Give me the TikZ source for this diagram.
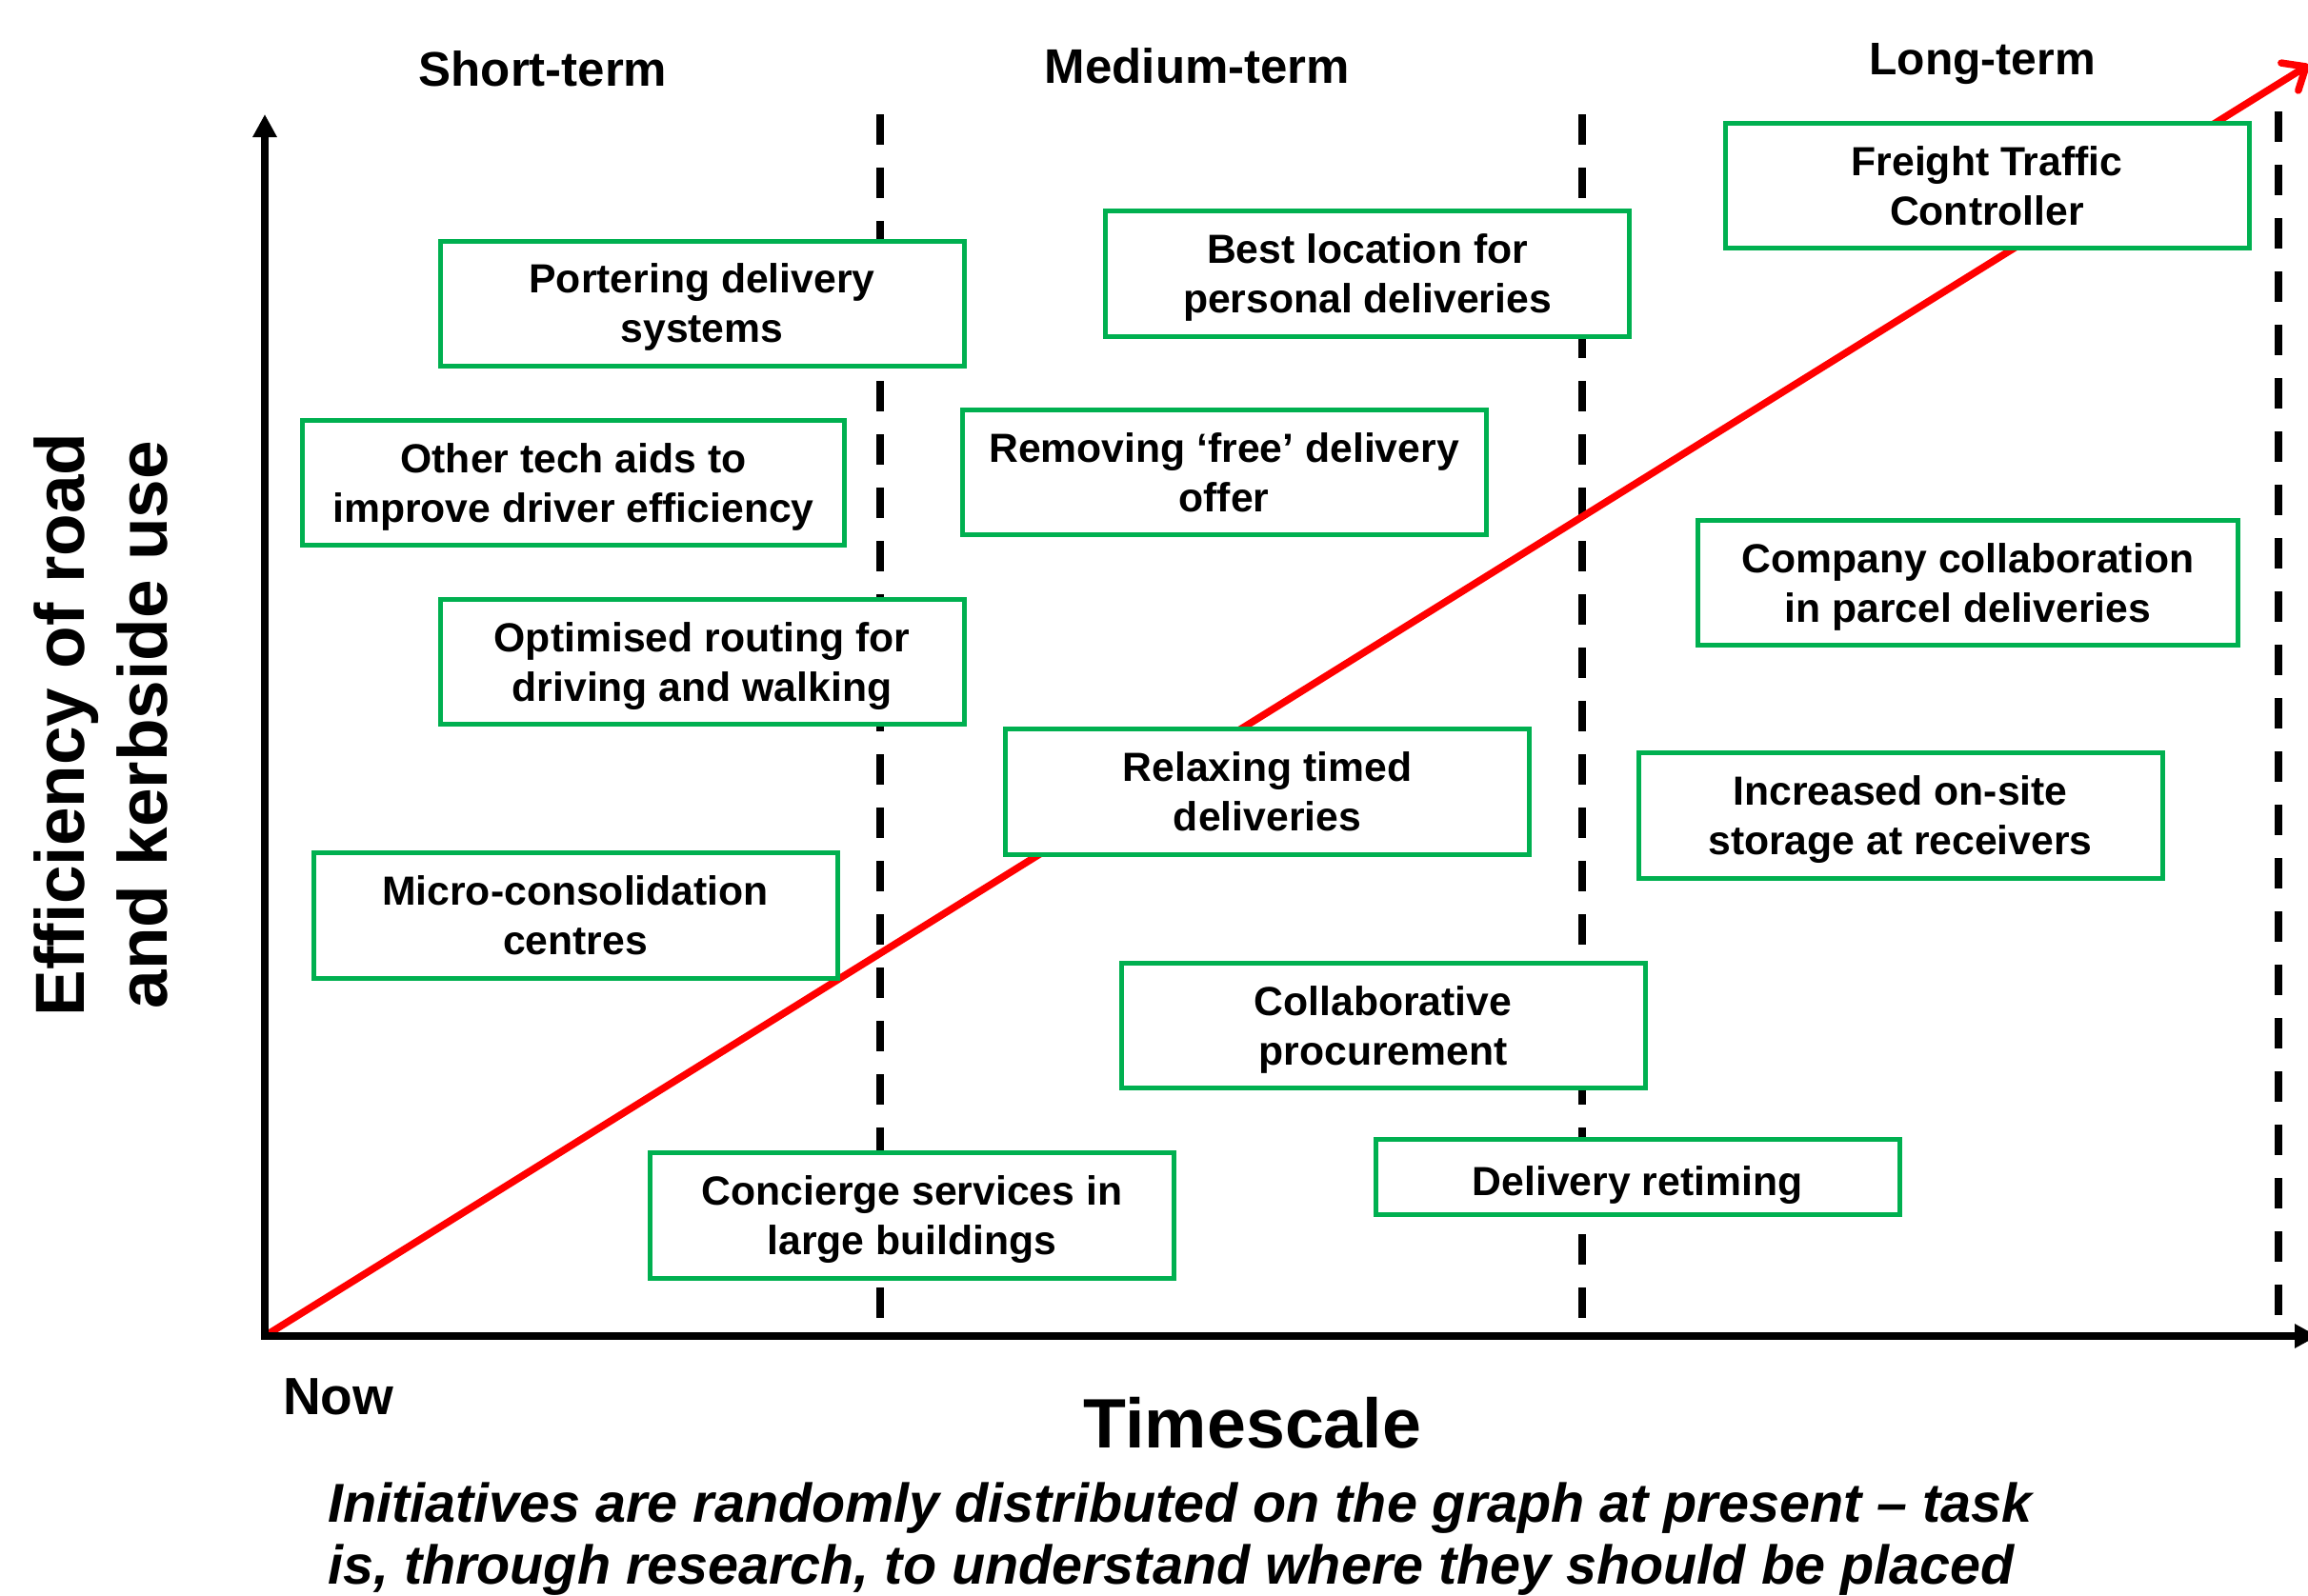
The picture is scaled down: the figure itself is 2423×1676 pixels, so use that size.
\documentclass[tikz,border=0pt]{standalone}
\usepackage{fontspec}
\setmainfont{Liberation Sans}
\usetikzlibrary{arrows.meta}
\definecolor{boxgreen}{HTML}{00B050}
\definecolor{linered}{HTML}{FF0000}
\begin{document}
\begin{tikzpicture}[x=1pt,y=-1pt,
  initbox/.style={draw=boxgreen, line width=5pt, fill=white, minimum width=550pt,
    minimum height=131pt, inner sep=0pt, outer sep=0pt, align=center, text depth=0pt,
    font=\fontsize{42.7}{52}\selectfont\bfseries},
  header/.style={font=\fontsize{51}{60}\selectfont\bfseries, anchor=base, inner sep=0pt},
  divider/.style={line width=8pt, dash pattern=on 32pt off 24pt},
  axisline/.style={line width=8pt, line join=miter,
    {Triangle[length=24pt,width=24pt]}-{Triangle[length=24pt,width=24pt]}},
  trend/.style={linered, line width=7.5pt, line cap=round,
    -{Straight Barb[length=20pt,width=34pt,round]}}
]
\clip (0,0) rectangle (2423,1676);
\fill[white] (0,0) rectangle (2423,1676);

% coordinates
\coordinate (O) at (278,1403);
\coordinate (ytop) at (278,120);
\coordinate (xend) at (2433,1403);
\coordinate (rtip) at (2424,68);
\coordinate (d1t) at (924,120);
\coordinate (d1b) at (924,1403);
\coordinate (d2t) at (1661,120);
\coordinate (d2b) at (1661,1403);
\coordinate (d3t) at (2392,117);
\coordinate (d3b) at (2392,1403);

% dividers
\draw[divider] (d1t) -- (d1b);
\draw[divider] (d2t) -- (d2b);
\draw[divider] (d3t) -- (d3b);

% trend
\draw[trend] (O) -- (rtip);

% boxes
\node[initbox] (b1) at (737,318.5) {Portering delivery\\systems};
\node[initbox, minimum width=569pt] (b2) at (602,507) {Other tech aids to\\improve driver efficiency};
\node[initbox] (b3) at (737,695) {Optimised routing for\\driving and walking};
\node[initbox, minimum height=132pt] (b4) at (604,961.5) {Micro-consolidation\\centres};
\node[initbox, minimum height=132pt] (b5) at (957.5,1276.5) {Concierge services in\\large buildings};
\node[initbox, minimum height=132pt] (b6) at (1435.5,287.5) {Best location for\\personal deliveries};
\node[initbox] (b7) at (1285,496) {Removing ‘free’ delivery\\offer};
\node[initbox, minimum height=132pt] (b8) at (1330.5,831.5) {Relaxing timed\\deliveries};
\node[initbox] (b9) at (1452,1077) {Collaborative\\procurement};
\node[initbox, minimum height=79pt, text height=38pt] (b10) at (1719,1236) {Delivery retiming};
\node[initbox, minimum height=131pt] (b11) at (2086,195) {Freight Traffic\\Controller};
\node[initbox, minimum width=567pt] (b12) at (2066,612) {Company collaboration\\in parcel deliveries};
\node[initbox, minimum height=132pt] (b13) at (1995,856.5) {Increased on-site\\storage at receivers};

% axes
\draw[axisline] (ytop) -- (O) -- (xend);

% headers
\node[header] (h1) at (570,90) {Short-term};
\node[header] (h2) at (1257,87) {Medium-term};
\node[header, font=\fontsize{48}{58}\selectfont\bfseries] (h3) at (2081,78) {Long-term};

% axis labels
\node[rotate=90, align=center, inner sep=0pt,
  font=\fontsize{73}{87}\selectfont\bfseries] (ylab) at (106,761)
  {Efficiency of road\\and kerbside use};
\node[anchor=base west, inner sep=0pt, font=\fontsize{55}{62}\selectfont\bfseries] (now) at (297,1485) {Now};
\node[anchor=base, inner sep=0pt, font=\fontsize{73.5}{86}\selectfont\bfseries] (ts) at (1315,1520) {Timescale};

% caption
\node[anchor=base west, inner sep=0pt, font=\fontsize{57.5}{65}\selectfont\bfseries\itshape] (cap1) at (344,1598)
  {Initiatives are randomly distributed on the graph at present – task};
\node[anchor=base west, inner sep=0pt, font=\fontsize{57.5}{65}\selectfont\bfseries\itshape] (cap2) at (344,1663)
  {is, through research, to understand where they should be placed};
\end{tikzpicture}
\end{document}
